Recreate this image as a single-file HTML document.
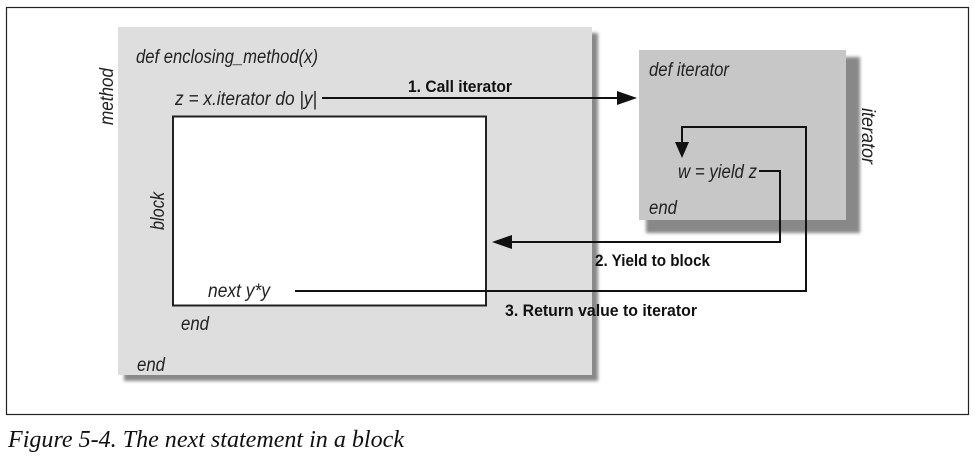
<!DOCTYPE html>
<html><head><style>
body{margin:0;background:#fff;width:975px;height:459px;overflow:hidden;position:relative;}
svg{position:absolute;left:0;top:0}
.i{font-family:"Liberation Sans",sans-serif;font-style:italic;font-size:19px;fill:#222}
.b{font-family:"Liberation Sans",sans-serif;font-weight:bold;font-size:17px;fill:#111}
.cap{font-family:"Liberation Serif",serif;font-style:italic;font-size:24px;fill:#111}
</style></head><body>
<svg width="975" height="459" viewBox="0 0 975 459">
<defs>
<filter id="bl" x="-5%" y="-5%" width="110%" height="110%"><feGaussianBlur stdDeviation="1.5"/></filter>
</defs>
<rect x="6.5" y="7.5" width="962" height="407" fill="#fff" stroke="#222" stroke-width="1.2"/>
<rect x="124" y="33" width="474" height="348" fill="#888" filter="url(#bl)"/>
<rect x="118" y="27" width="474" height="348" fill="#dedede"/>
<rect x="646" y="57" width="214" height="176" fill="#888" filter="url(#bl)"/>
<rect x="639" y="50" width="207" height="170" fill="#c7c7c7"/>
<rect x="173" y="116.5" width="313" height="189" fill="#fff" stroke="#222" stroke-width="2"/>
<g fill="none" stroke="#111" stroke-width="2">
<path d="M322 98 H622"/>
<path d="M759 171 H780 V242 H505"/>
<path d="M295 291 H806 V127 H682 V145"/>
</g>
<path d="M637 98 L617 91 L617 105 Z" fill="#111"/>
<path d="M492 242 L512 235 L512 249 Z" fill="#111"/>
<path d="M682 158 L675 142 L689 142 Z" fill="#111"/>
<text class="i" x="136" y="63" textLength="182" lengthAdjust="spacingAndGlyphs">def enclosing_method(x)</text>
<text class="i" x="175" y="105" textLength="142" lengthAdjust="spacingAndGlyphs">z = x.iterator do |y|</text>
<text class="i" x="208" y="297" textLength="62" lengthAdjust="spacingAndGlyphs">next y*y</text>
<text class="i" x="181" y="330" textLength="28" lengthAdjust="spacingAndGlyphs">end</text>
<text class="i" x="137" y="371" textLength="28" lengthAdjust="spacingAndGlyphs">end</text>
<text class="i" x="649" y="76" textLength="80" lengthAdjust="spacingAndGlyphs">def iterator</text>
<text class="i" x="678" y="178" textLength="79" lengthAdjust="spacingAndGlyphs">w = yield z</text>
<text class="i" x="649" y="214" textLength="28" lengthAdjust="spacingAndGlyphs">end</text>
<text class="i" transform="translate(113,125) rotate(-90)" textLength="57" lengthAdjust="spacingAndGlyphs">method</text>
<text class="i" transform="translate(164,230) rotate(-90)" textLength="38" lengthAdjust="spacingAndGlyphs">block</text>
<text class="i" transform="translate(862,108) rotate(90)" textLength="56" lengthAdjust="spacingAndGlyphs">iterator</text>
<text class="b" x="408" y="92" textLength="104" lengthAdjust="spacingAndGlyphs">1. Call iterator</text>
<text class="b" x="595" y="266" textLength="115" lengthAdjust="spacingAndGlyphs">2. Yield to block</text>
<text class="b" x="505" y="316" textLength="192" lengthAdjust="spacingAndGlyphs">3. Return value to iterator</text>
<text class="cap" x="8" y="447" textLength="396" lengthAdjust="spacingAndGlyphs">Figure 5-4. The next statement in a block</text>
</svg>
</body></html>
